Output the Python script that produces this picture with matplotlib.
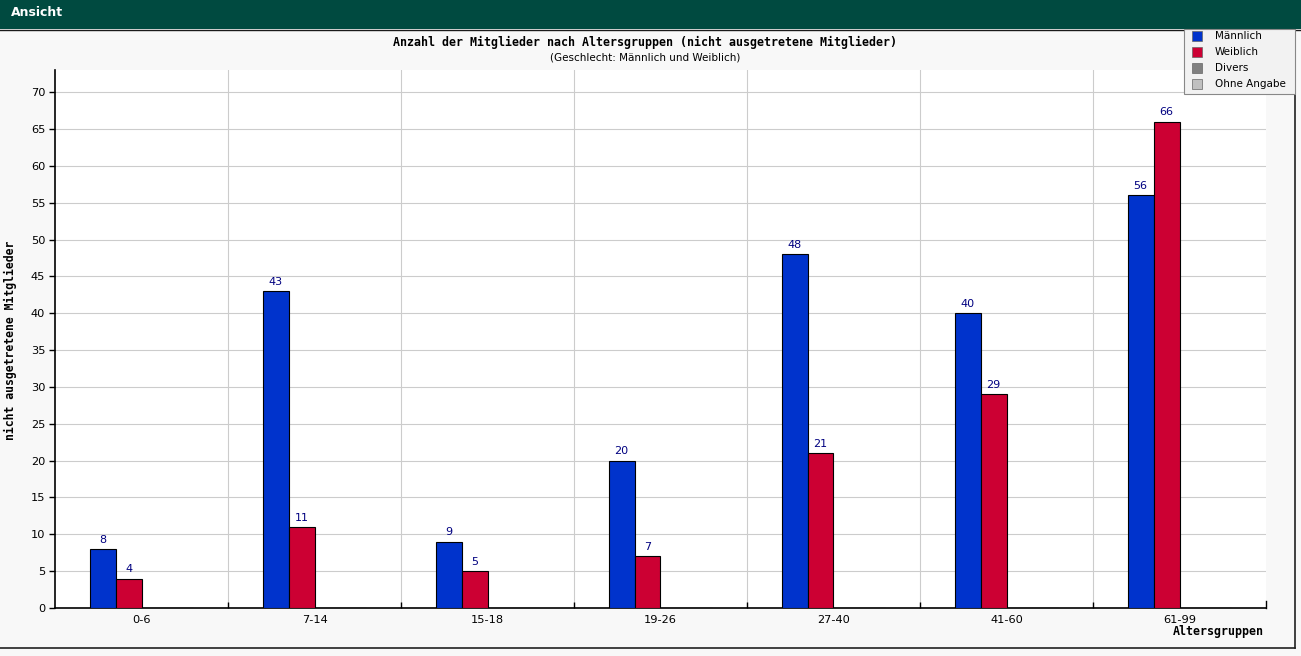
import matplotlib
matplotlib.use("Agg")
import matplotlib.pyplot as plt
from matplotlib.patches import Rectangle
import numpy as np

categories = ["0-6", "7-14", "15-18", "19-26", "27-40", "41-60", "61-99"]
maennlich = [8, 43, 9, 20, 48, 40, 56]
weiblich = [4, 11, 5, 7, 21, 29, 66]
divers = [0, 0, 0, 0, 0, 0, 0]
ohne_angabe = [0, 0, 0, 0, 0, 0, 0]
series_names = ["Männlich", "Weiblich", "Divers", "Ohne Angabe"]
colors = ["#0033cc", "#cc0033", "#808080", "#c0c0c0"]
yticks = list(range(0, 75, 5))

W, H = 1301, 656
fig = plt.figure(figsize=(W / 100, H / 100), dpi=100)
fig.patch.set_facecolor("#f8f8f8")

# header bar
fig.add_artist(Rectangle((0, 1 - 29 / H), 1, 29 / H, transform=fig.transFigure,
                         facecolor="#004a40", edgecolor="none", zorder=0))
fig.add_artist(plt.Line2D([0, 1], [1 - 29.5 / H, 1 - 29.5 / H], transform=fig.transFigure,
                          color="#1a1a1a", lw=1))
fig.text(11 / W, 1 - 12 / H, "Ansicht", color="white", fontsize=9, fontweight="bold",
         va="center", ha="left", family="DejaVu Sans")
# panel border bottom/right
fig.add_artist(plt.Line2D([0, 1295 / W], [1 - 648 / H, 1 - 648 / H], transform=fig.transFigure,
                          color="#222222", lw=1.2))
fig.add_artist(plt.Line2D([1295 / W, 1295 / W], [1 - 648 / H, 1 - 30 / H], transform=fig.transFigure,
                          color="#222222", lw=1.2))

left, right, top, bottom = 55, 1266, 70, 608
ax = fig.add_axes([left / W, 1 - bottom / H, (right - left) / W, (bottom - top) / H])
ax.set_facecolor("white")

x = np.arange(len(categories))
bw = 0.15
data = [maennlich, weiblich, divers, ohne_angabe]
for k, (vals, c, name) in enumerate(zip(data, colors, series_names)):
    pos = x + (k - 1.5) * bw
    ax.bar(pos, vals, width=bw, color=c, edgecolor="black", linewidth=0.8, label=name, zorder=3)
    for p, v in zip(pos, vals):
        if v > 0:
            ax.text(p, v + 0.6, str(v), ha="center", va="bottom", fontsize=8, color="#000080", zorder=4)

ax.set_xlim(-0.5, len(categories) - 0.5)
ax.set_ylim(0, 73)
ax.set_yticks(yticks)
ax.set_yticklabels([str(t) for t in yticks], fontsize=8.2)
ax.set_xticks(x)
ax.set_xticklabels(categories, fontsize=8.2)
ax.tick_params(axis="x", length=0, pad=5)
ax.set_xticks(np.arange(0.5, len(categories) - 0.5, 1), minor=True)
ax.tick_params(axis="x", which="minor", direction="in", length=4, width=1)
ax.tick_params(axis="y", direction="out", length=4, width=1, pad=3)
ax.grid(axis="y", color="#cccccc", lw=0.8, zorder=0)
ax.grid(axis="x", which="minor", color="#cccccc", lw=0.8, zorder=0)
ax.set_axisbelow(True)
for s in ["top", "right"]:
    ax.spines[s].set_visible(False)
ax.spines["left"].set_linewidth(1.2)
ax.spines["bottom"].set_linewidth(1.2)
# right end tick
ax.plot([len(categories) - 0.5, len(categories) - 0.5], [0, 1.0], color="black", lw=1, clip_on=False, zorder=5)

fig.text(645 / W, 1 - 42 / H, "Anzahl der Mitglieder nach Altersgruppen (nicht ausgetretene Mitglieder)",
         ha="center", va="center", fontsize=8.4, fontweight="bold", family="DejaVu Sans Mono")
fig.text(645 / W, 1 - 57 / H, "(Geschlecht: Männlich und Weiblich)",
         ha="center", va="center", fontsize=7.5, family="DejaVu Sans")
fig.text(10 / W, 1 - 340 / H, "nicht ausgetretene Mitglieder", rotation=90,
         ha="center", va="center", fontsize=8.3, fontweight="bold", family="DejaVu Sans Mono")
fig.text(1264 / W, 1 - 632 / H, "Altersgruppen", ha="right", va="center",
         fontsize=8.4, fontweight="bold", family="DejaVu Sans Mono")

# legend box
lx0, ly0, lx1, ly1 = 1184, 29, 1295, 94
fig.add_artist(Rectangle((lx0 / W, 1 - ly1 / H), (lx1 - lx0) / W, (ly1 - ly0) / H,
                         transform=fig.transFigure, facecolor="#f2f2f2", edgecolor="#888888",
                         lw=0.8, zorder=10))
for i, (name, c) in enumerate(zip(series_names, colors)):
    yc = 36 + i * 16
    fig.add_artist(Rectangle((1192 / W, 1 - (yc + 5) / H), 10 / W, 10 / H, transform=fig.transFigure,
                             facecolor=c, edgecolor="#666666", lw=0.5, zorder=11))
    fig.text(1215 / W, 1 - yc / H, name, ha="left", va="center", fontsize=7.5, zorder=12,
             family="DejaVu Sans")

fig.savefig("out.png", dpi=100, facecolor=fig.get_facecolor())
